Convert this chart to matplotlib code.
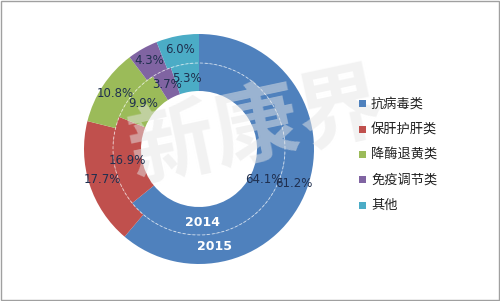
import matplotlib
matplotlib.use("Agg")
from matplotlib import pyplot as plt
from matplotlib.patches import Rectangle
import numpy as np

plt.rcParams['font.family'] = ['Noto Sans CJK SC', 'DejaVu Sans']

categories = ["抗病毒类", "保肝护肝类", "降酶退黄类", "免疫调节类", "其他"]
share_2014 = [64.1, 16.9, 9.9, 3.7, 5.3]
share_2015 = [61.2, 17.7, 10.8, 4.3, 6.0]
colors = ["#4F81BD", "#C0504D", "#9BBB59", "#8064A2", "#4BACC6"]

fig = plt.figure(figsize=(5.0, 3.01), dpi=100)
# pie area: center ~ (199,149) px, outer radius ~115 px
ax = fig.add_axes([(199 - 120) / 500, (301 - 149 - 120) / 301, 240 / 500, 240 / 301])

r_out, r_mid, r_hole = 115, 86, 58

ax.pie(share_2015, radius=r_out, colors=colors, startangle=90, counterclock=False,
       wedgeprops=dict(width=r_out - r_mid, linewidth=0), frame=True)
ax.pie(share_2014, radius=r_mid, colors=colors, startangle=90, counterclock=False,
       wedgeprops=dict(width=r_mid - r_hole, linewidth=0), frame=True)
ax.set_xlim(-120, 120)
ax.set_ylim(-120, 120)
ax.set_aspect("equal")
ax.axis("off")

# thin white dashed ring between the two series
t = np.linspace(0, 2 * np.pi, 400)
ax.plot(r_mid * np.cos(t), r_mid * np.sin(t), color="white", lw=0.7, ls=(0, (3, 2)),
        alpha=0.6, zorder=1.5)

# faint watermark, behind the labels
ax.text(58, 20, "新康界", fontsize=62, color="#E6E6E6", alpha=0.5,
        rotation=12, ha="center", va="center", fontweight="bold", zorder=2,
        clip_on=False)

# percentage labels at slice midpoints
def add_labels(values, radius):
    start = 90.0
    for v in values:
        mid = np.deg2rad(start - v * 3.6 / 2)
        ax.text(radius * np.cos(mid), radius * np.sin(mid), f"{v:.1f}%",
                ha="center", va="center", fontsize=8.5, color="#1F2F4F",
                family="DejaVu Sans", zorder=4)
        start -= v * 3.6

add_labels(share_2014, 72)
add_labels(share_2015, 101)

ax.text(4, -73, "2014", ha="center", va="center", fontsize=9, color="white",
        fontweight="bold", family="DejaVu Sans", zorder=4)
ax.text(16, -98, "2015", ha="center", va="center", fontsize=9, color="white",
        fontweight="bold", family="DejaVu Sans", zorder=4)

# legend
for i, (name, c) in enumerate(zip(categories, colors)):
    y = 301 - (104 + i * 25.3)
    fig.patches.append(Rectangle((359 / 500, (y - 3.5) / 301), 7 / 500, 7 / 301,
                                 transform=fig.transFigure, facecolor=c, edgecolor="none"))
    fig.text(371 / 500, y / 301, name, fontsize=9.5, va="center", ha="left", color="#222222")

# outer frame
fig.patches.append(Rectangle((0.002, 0.003), 0.995, 0.993, transform=fig.transFigure,
                             fill=False, edgecolor="#A0A0A0", linewidth=1))

fig.savefig("out.png", dpi=100)
